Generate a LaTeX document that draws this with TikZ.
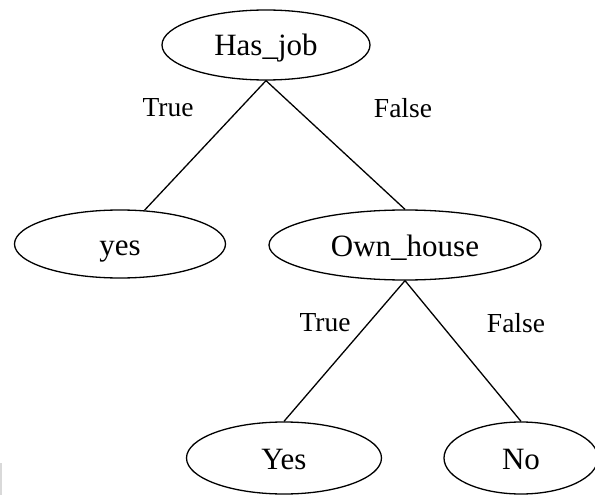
\documentclass[tikz,border=0pt]{standalone}
\usepackage{fontspec}
\setmainfont{Liberation Serif}
\usetikzlibrary{shapes.geometric}
\begin{document}
\begin{tikzpicture}[x=1pt,y=-1pt,
  tnode/.style={ellipse,draw,line width=1.3pt,inner sep=0pt,text height=22pt,text depth=0pt,font=\fontsize{31}{34}\selectfont},
  lbl/.style={font=\fontsize{27.5}{32}\selectfont,inner sep=0pt},
  edge/.style={line width=1.3pt}]
\useasboundingbox (0,0) rectangle (595,495);
\node[tnode,minimum width=208pt,minimum height=70pt] (hj) at (266,45) {Has\_job};
\node[tnode,minimum width=211pt,minimum height=68pt] (yes) at (120,244) {yes};
\node[tnode,minimum width=272pt,minimum height=70pt] (oh) at (405,245) {Own\_house};
\node[tnode,minimum width=195pt,minimum height=72pt] (Yes) at (284,458) {Yes};
\node[tnode,minimum width=154pt,minimum height=72pt] (No) at (521,458) {No};
\draw[edge] (hj.south) -- (yes.54);
\draw[edge] (hj.south) -- (oh.north);
\draw[edge] (oh.south) -- (Yes.north);
\draw[edge] (oh.south) -- (No.north);
\node[lbl] (t1) at (168,108) {True};
\node[lbl] (f1) at (403,108) {False};
\node[lbl] (t2) at (325,323) {True};
\node[lbl] (f2) at (516,323) {False};
\draw[gray!30,line width=1.5pt] (1,463) coordinate (a1) -- (1,495) coordinate (a2);
\end{tikzpicture}
\end{document}
